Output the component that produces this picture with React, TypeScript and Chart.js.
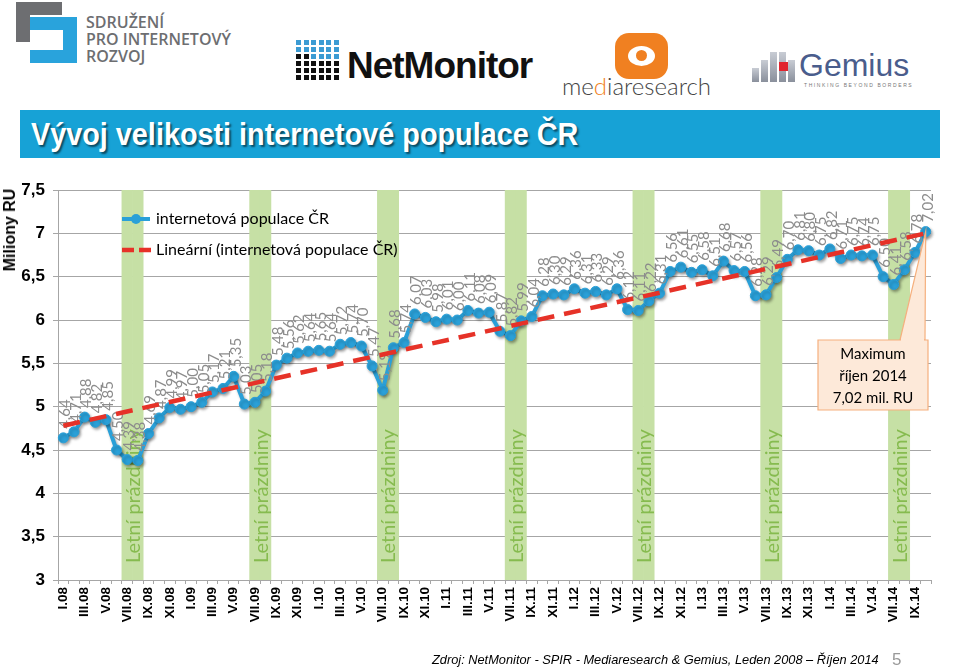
import React, { useEffect, useRef } from 'react';
import { Chart, registerables } from 'chart.js';

Chart.register(...registerables);

// ---------- data ----------
const monthNames = ['I', 'II', 'III', 'IV', 'V', 'VI', 'VII', 'VIII', 'IX', 'X', 'XI', 'XII'];
const years = ['08', '09', '10', '11', '12', '13', '14'];
const lastYearMonths = 10; // data ends in X.14

const categories: string[] = [];
years.forEach((y, yi) => {
  const n = yi === years.length - 1 ? lastYearMonths : 12;
  for (let m = 0; m < n; m++) categories.push(monthNames[m] + '.' + y);
});

const population = [
  4.64, 4.71, 4.88, 4.82, 4.85, 4.50, 4.39, 4.38, 4.69, 4.87, 4.99, 4.97,
  5.00, 5.05, 5.17, 5.21, 5.35, 5.03, 5.05, 5.18, 5.48, 5.56, 5.62, 5.64,
  5.65, 5.64, 5.72, 5.74, 5.70, 5.47, 5.19, 5.68, 5.74, 6.07, 6.03, 5.98,
  6.01, 6.00, 6.11, 6.08, 6.09, 5.87, 5.82, 5.99, 6.04, 6.28, 6.30, 6.29,
  6.36, 6.31, 6.33, 6.29, 6.36, 6.12, 6.11, 6.22, 6.31, 6.56, 6.61, 6.55,
  6.58, 6.51, 6.68, 6.57, 6.56, 6.28, 6.29, 6.49, 6.70, 6.81, 6.80, 6.75,
  6.82, 6.71, 6.75, 6.74, 6.75, 6.50, 6.41, 6.58, 6.78, 7.02,
];

const trendStart = 4.78;
const trendEnd = 7.0;

const holidayMonths = ['VII', 'VIII'];
const holidayLabel = 'Letní prázdniny';

const yMin = 3;
const yMax = 7.5;
const yStep = 0.5;

const seriesName = 'internetová populace ČR';
const trendName = 'Lineární (internetová populace ČR)';
const calloutLines = ['Maximum', 'říjen 2014', '7,02 mil. RU'];

// ---------- styles ----------
const BLUE = '#2aa0d8';
const RED = '#e63228';
const BAND = '#c6e0a5';
const BAND_TEXT = '#86bb4f';
const LABEL_GREY = '#8c8c8c';

const BAND_IDX = 0;
const LINE_IDX = 1;

const fmt = (v: number) => v.toFixed(2).replace('.', ',');

const overlayPlugin = {
  id: 'overlay',
  beforeDatasetDraw(chart: any, args: any) {
    if (args.index === LINE_IDX) {
      const ctx = chart.ctx;
      ctx.save();
      ctx.shadowColor = 'rgba(0,0,0,0.35)';
      ctx.shadowBlur = 3;
      ctx.shadowOffsetX = 1.5;
      ctx.shadowOffsetY = 2;
    }
  },
  afterDatasetDraw(chart: any, args: any) {
    const ctx = chart.ctx;
    if (args.index === BAND_IDX) {
      const meta = chart.getDatasetMeta(BAND_IDX);
      const bottom = chart.chartArea.bottom;
      for (let i = 0; i < categories.length; i++) {
        const mon = categories[i].split('.')[0];
        if (mon === holidayMonths[0]) {
          const a = meta.data[i];
          const b = meta.data[i + 1] || a;
          const cx = (a.x + b.x) / 2;
          ctx.save();
          ctx.translate(cx + 1, bottom - 17);
          ctx.rotate(-Math.PI / 2);
          ctx.font = '20px Lato, "Open Sans", sans-serif';
          ctx.fillStyle = BAND_TEXT;
          ctx.textAlign = 'left';
          ctx.textBaseline = 'middle';
          ctx.fillText(holidayLabel, 0, 0);
          ctx.restore();
        }
      }
    }
    if (args.index === LINE_IDX) {
      ctx.restore();
      const meta = chart.getDatasetMeta(LINE_IDX);
      meta.data.forEach((pt: any, i: number) => {
        ctx.save();
        ctx.translate(pt.x + 2, pt.y - 9);
        ctx.rotate(-Math.PI / 2);
        ctx.font = '15px Lato, "Open Sans", sans-serif';
        ctx.fillStyle = LABEL_GREY;
        ctx.textAlign = 'left';
        ctx.textBaseline = 'middle';
        ctx.fillText(fmt(population[i]), 0, 0);
        ctx.restore();
      });
    }
  },
  afterDraw(chart: any) {
    const ctx = chart.ctx;
    // legend
    ctx.save();
    ctx.font = '16px Lato, "Open Sans", sans-serif';
    ctx.fillStyle = '#000';
    ctx.textAlign = 'left';
    ctx.textBaseline = 'middle';
    ctx.strokeStyle = BLUE;
    ctx.lineWidth = 4;
    ctx.beginPath();
    ctx.moveTo(122, 219);
    ctx.lineTo(150, 219);
    ctx.stroke();
    ctx.fillStyle = BLUE;
    ctx.beginPath();
    ctx.arc(136, 219, 5, 0, Math.PI * 2);
    ctx.fill();
    ctx.fillStyle = '#000';
    ctx.fillText(seriesName, 156, 219);
    ctx.strokeStyle = RED;
    ctx.lineWidth = 4.5;
    ctx.setLineDash([12, 5]);
    ctx.beginPath();
    ctx.moveTo(122, 250);
    ctx.lineTo(151, 250);
    ctx.stroke();
    ctx.setLineDash([]);
    ctx.fillText(trendName, 156, 250);
    ctx.restore();

    // callout
    const meta = chart.getDatasetMeta(LINE_IDX);
    const last = meta.data[meta.data.length - 1];
    const bx = 818, by = 340, bw = 110, bh = 70;
    ctx.save();
    ctx.fillStyle = '#fde9d9';
    ctx.strokeStyle = '#f5b07e';
    ctx.lineWidth = 1.2;
    ctx.beginPath();
    ctx.moveTo(900, by);
    ctx.lineTo(last.x, last.y);
    ctx.lineTo(925, by);
    ctx.closePath();
    ctx.fill();
    ctx.stroke();
    ctx.beginPath();
    ctx.rect(bx, by, bw, bh);
    ctx.fill();
    ctx.stroke();
    ctx.fillRect(901, by - 1, 23, 3);
    ctx.fillStyle = '#000';
    ctx.font = '15px Lato, "Open Sans", sans-serif';
    ctx.textAlign = 'center';
    ctx.textBaseline = 'middle';
    calloutLines.forEach((t, i) => ctx.fillText(t, bx + bw / 2, by + 14 + i * 22));
    ctx.restore();
  },
};

function ChartCanvas() {
  const ref = useRef<HTMLCanvasElement | null>(null);
  useEffect(() => {
    if (!ref.current) return;
    Chart.defaults.font.family = '"Liberation Sans", Arial, sans-serif';
    const bandData = categories.map((c) =>
      holidayMonths.includes(c.split('.')[0]) ? [yMin, yMax] : null
    );
    const trendData = categories.map((_, i) =>
      i === 0 ? trendStart : i === categories.length - 1 ? trendEnd : null
    );
    const chart = new Chart(ref.current, {
      type: 'bar',
      data: {
        labels: categories,
        datasets: [
          {
            type: 'bar',
            label: holidayLabel,
            data: bandData as any,
            backgroundColor: BAND,
            borderWidth: 0,
            barPercentage: 1,
            categoryPercentage: 1,
            order: 3,
          },
          {
            type: 'line',
            label: seriesName,
            data: population,
            borderColor: BLUE,
            backgroundColor: BLUE,
            borderWidth: 4,
            pointRadius: 5,
            pointBackgroundColor: BLUE,
            pointBorderColor: BLUE,
            pointBorderWidth: 1,
            tension: 0,
            order: 1,
          },
          {
            type: 'line',
            label: trendName,
            data: trendData,
            borderColor: RED,
            borderWidth: 4.5,
            borderDash: [17, 10],
            pointRadius: 0,
            spanGaps: true,
            order: 0,
          },
        ],
      },
      options: {
        animation: false,
        responsive: false,
        maintainAspectRatio: false,
        layout: { padding: { top: 190, right: 29, left: 0, bottom: 0 } },
        plugins: {
          legend: { display: false },
          tooltip: { enabled: false },
          title: { display: false },
        },
        scales: {
          x: {
            type: 'category',
            offset: true,
            grid: {
              display: true,
              drawOnChartArea: false,
              drawTicks: true,
              tickLength: 4,
              color: '#a6a6a6',
              offset: true,
            },
            border: { color: '#a6a6a6' },
            ticks: {
              autoSkip: false,
              maxRotation: 90,
              minRotation: 90,
              padding: 3,
              color: '#000',
              font: { size: 13.5, weight: 'bold' },
              callback: (_v: any, i: number) => (i % 2 === 0 ? categories[i] : ''),
            },
            afterFit: (s: any) => {
              s.height = 92;
            },
          },
          y: {
            min: yMin,
            max: yMax,
            grid: { color: '#a6a6a6', tickLength: 5 },
            border: { color: '#a6a6a6' },
            ticks: {
              stepSize: yStep,
              padding: 8,
              color: '#000',
              font: { size: 17, weight: 'bold' },
              callback: (v: any) => String(v).replace('.', ','),
            },
            afterFit: (s: any) => {
              s.width = 58;
            },
          },
        },
      } as any,
      plugins: [overlayPlugin],
    });
    return () => chart.destroy();
  }, []);
  return (
    <canvas
      ref={ref}
      width={960}
      height={672}
      style={{ position: 'absolute', left: 0, top: 0, width: 960, height: 672 }}
    />
  );
}

function NetMonitorDots() {
  const cells = [];
  for (let r = 0; r < 6; r++) {
    for (let c = 0; c < 6; c++) {
      cells.push(
        <div
          key={r + '-' + c}
          style={{
            position: 'absolute',
            left: c * 7.5,
            top: r * 7,
            width: 5,
            height: 5,
            background: r < 3 && !(r === 2 && c < 2) ? '#3b9bd3' : '#111',
          }}
        />
      );
    }
  }
  return <div style={{ position: 'absolute', left: 296, top: 40, width: 45, height: 42 }}>{cells}</div>;
}

function GemiusIcon() {
  const blocks = [];
  const heights = [14, 22, 30, 30, 22];
  for (let c = 0; c < 5; c++) {
    const h = heights[c];
    blocks.push(
      <div
        key={c}
        style={{
          position: 'absolute',
          left: c * 9,
          top: 32 - h,
          width: 7,
          height: h,
          background: 'linear-gradient(#c8ccd4,#8a909c)',
        }}
      />
    );
  }
  return (
    <div style={{ position: 'absolute', left: 752, top: 50, width: 45, height: 32 }}>
      {blocks}
      <div style={{ position: 'absolute', left: 27, top: 12, width: 9, height: 9, background: '#e1252f' }} />
    </div>
  );
}

export default function App() {
  const abs = (o: any) => ({ position: 'absolute' as const, ...o });
  return (
    <div
      style={{
        position: 'fixed',
        left: 0,
        top: 0,
        width: 960,
        height: 672,
        background: '#fff',
        overflow: 'hidden',
        fontFamily: '"Liberation Sans", Arial, sans-serif',
      }}
    >
      {/* SPIR logo */}
      <div style={abs({ left: 16, top: 2, width: 46, height: 13, background: '#6d6e71' })} />
      <div style={abs({ left: 16, top: 2, width: 14, height: 40, background: '#6d6e71' })} />
      <div style={abs({ left: 30, top: 17, width: 47, height: 13, background: '#29a3dc' })} />
      <div style={abs({ left: 63, top: 17, width: 14, height: 46, background: '#29a3dc' })} />
      <div style={abs({ left: 30, top: 50, width: 47, height: 13, background: '#29a3dc' })} />
      <div
        style={abs({
          left: 86,
          top: 14,
          fontFamily: '"Open Sans", sans-serif',
          fontWeight: 600,
          fontSize: 16,
          lineHeight: '17px',
          color: '#6d6e71',
        })}
      >
        SDRUŽENÍ
        <br />
        PRO INTERNETOVÝ
        <br />
        ROZVOJ
      </div>

      {/* NetMonitor */}
      <NetMonitorDots />
      <div
        style={abs({
          left: 347,
          top: 44,
          fontSize: 37,
          fontWeight: 'bold',
          letterSpacing: -1,
          color: '#111',
          lineHeight: '44px',
        })}
      >
        NetMonitor
      </div>

      {/* mediaresearch */}
      <div style={abs({ left: 615, top: 33, width: 53, height: 46, borderRadius: 14, background: '#f08021' })} />
      <div style={abs({ left: 628, top: 46, width: 27, height: 20, borderRadius: '50%', background: '#fff' })} />
      <div style={abs({ left: 636, top: 50, width: 11, height: 11, borderRadius: '50%', background: '#f08021' })} />
      <div
        style={abs({
          left: 562,
          top: 72,
          fontFamily: 'Lato, sans-serif',
          fontWeight: 300,
          fontSize: 24,
          color: '#444',
          lineHeight: '28px',
        })}
      >
        me<span style={{ color: '#f08021' }}>d</span>iaresearch
      </div>

      {/* Gemius */}
      <GemiusIcon />
      <div style={abs({ left: 799, top: 46, fontSize: 32, color: '#4a5d8c', lineHeight: '38px' })}>Gemius</div>
      <div style={abs({ left: 804, top: 82, fontSize: 5, letterSpacing: 1.6, color: '#777' })}>
        THINKING BEYOND BORDERS
      </div>

      {/* title banner */}
      <div
        style={abs({
          left: 20,
          top: 110,
          width: 920,
          height: 48,
          background: '#17a2d6',
        })}
      />
      <div
        style={abs({
          left: 31,
          top: 111,
          height: 46,
          lineHeight: '46px',
          fontFamily: '"Liberation Sans", Arial, sans-serif',
          fontWeight: 'bold',
          fontSize: 32,
          color: '#fff',
          textShadow: '2px 2px 2px rgba(0,0,0,0.55)',
          whiteSpace: 'nowrap',
          transform: 'scaleX(0.9)',
          transformOrigin: 'left center',
        })}
      >
        Vývoj velikosti internetové populace ČR
      </div>

      <ChartCanvas />

      {/* y axis title */}
      <div
        style={abs({
          left: 10,
          top: 230,
          transform: 'translate(-50%, -50%) rotate(-90deg)',
          fontSize: 16,
          fontWeight: 'bold',
          whiteSpace: 'nowrap',
          color: '#000',
        })}
      >
        Miliony RU
      </div>

      {/* footer */}
      <div
        style={abs({
          left: 432,
          top: 652,
          fontSize: 12.8,
          fontStyle: 'italic',
          color: '#000',
          whiteSpace: 'nowrap',
        })}
      >
        Zdroj: NetMonitor - SPIR - Mediaresearch &amp; Gemius, Leden 2008 – Říjen 2014
      </div>
      <div style={abs({ left: 892, top: 650, fontSize: 17, color: '#999' })}>5</div>
    </div>
  );
}
